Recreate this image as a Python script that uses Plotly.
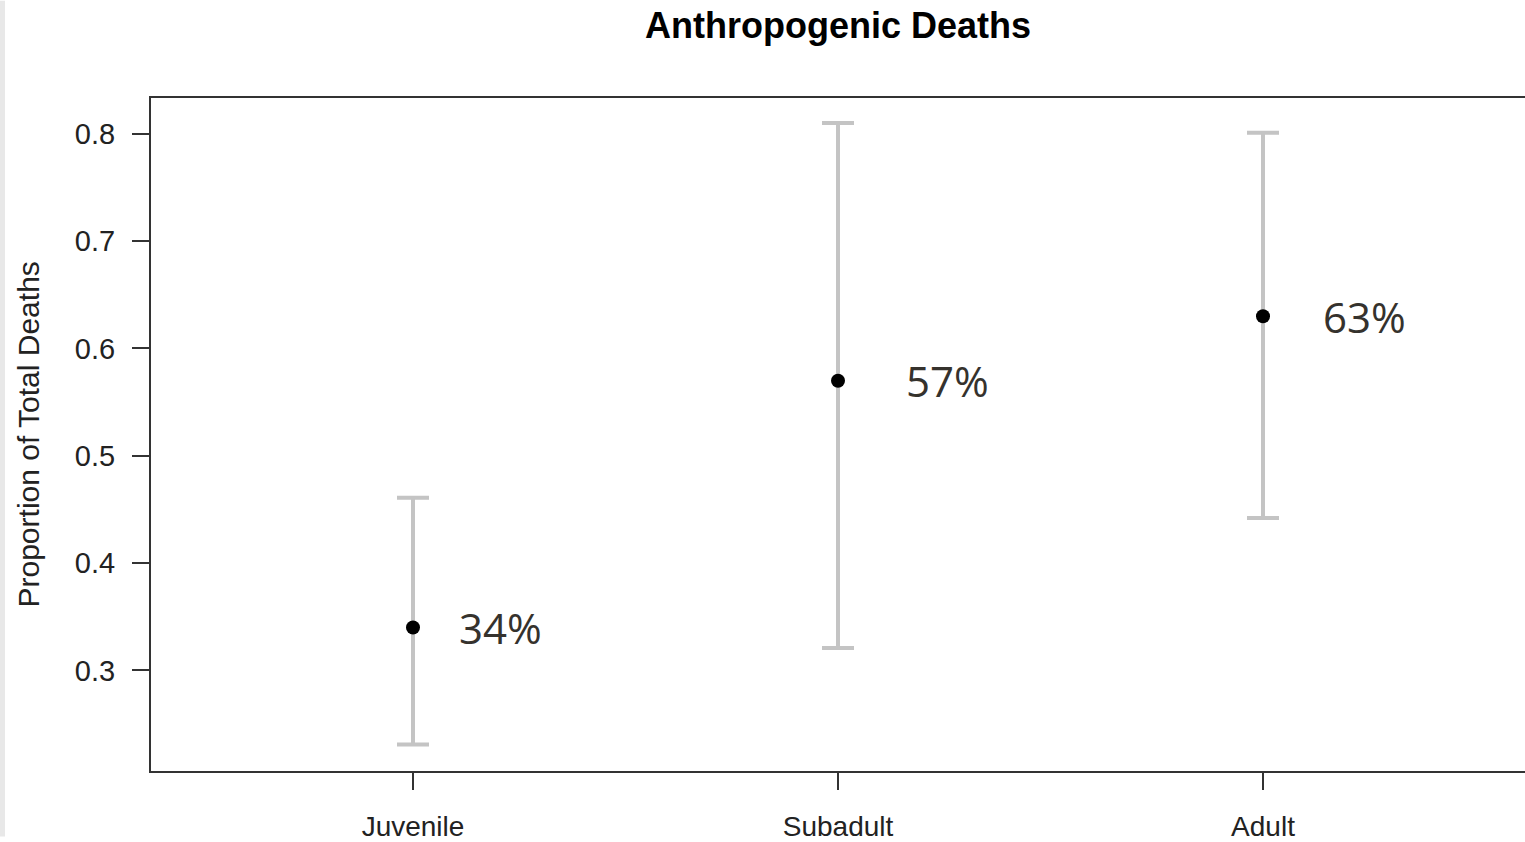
import plotly.graph_objects as go

categories = ["Juvenile", "Subadult", "Adult"]
proportion = [0.34, 0.57, 0.63]
lower = [0.231, 0.321, 0.442]
upper = [0.461, 0.810, 0.801]
labels = ["34%", "57%", "63%"]
label_shift = [44, 66, 58]
y_ticks = [0.3, 0.4, 0.5, 0.6, 0.7, 0.8]

xpos = [1, 2, 3]
W, H = 1525, 842
L, R, T, B = 151, 0, 98, 66
plot_w = W - L - R

fig = go.Figure()
fig.add_trace(go.Scatter(
    x=xpos, y=proportion, mode="markers",
    marker=dict(color="black", size=14),
    error_y=dict(type="data", symmetric=False,
                 array=[u - p for u, p in zip(upper, proportion)],
                 arrayminus=[p - l for p, l in zip(proportion, lower)],
                 color="#c4c4c4", thickness=4, width=16),
    showlegend=False,
))

for x, p, t, s in zip(xpos, proportion, labels, label_shift):
    fig.add_annotation(x=x, y=p, text=t, showarrow=False, xanchor="left",
                       yanchor="middle", xshift=s,
                       font=dict(family="Open Sans", size=42, color="#35322d"))

fig.add_annotation(xref="paper", yref="paper", x=0, y=0.5, xshift=-123,
                   text="Proportion of Total Deaths", textangle=-90,
                   showarrow=False, xanchor="center", yanchor="middle",
                   font=dict(family="Liberation Sans", size=30, color="#222222"))

fig.add_shape(type="rect", xref="paper", yref="paper",
              x0=-L / plot_w, x1=-(L - 5) / plot_w, y0=-B / (H - T - B), y1=1 + T / (H - T - B),
              fillcolor="#e8e8e8", line=dict(width=0), layer="below")

fig.update_layout(
    width=W, height=H,
    margin=dict(l=L, r=R, t=T, b=B),
    paper_bgcolor="white", plot_bgcolor="white",
    title=dict(text="<b>Anthropogenic Deaths</b>", x=0.5, xref="paper",
               y=1 - 25 / H, yref="container", yanchor="middle", xanchor="center",
               font=dict(family="Liberation Sans", size=36, color="black")),
    xaxis=dict(range=[1 - 262 / 425, 1 + (plot_w - 262) / 425],
               tickvals=xpos, ticktext=categories,
               showgrid=False, zeroline=False,
               showline=True, linecolor="#333333", linewidth=2, mirror=True,
               ticks="outside", ticklen=17, tickwidth=2, tickcolor="#333333",
               ticklabelstandoff=12,
               tickfont=dict(family="Liberation Sans", size=28, color="#222222")),
    yaxis=dict(range=[0.2063, 0.8334], tickvals=y_ticks, tickformat=".1f",
               showgrid=False, zeroline=False,
               showline=True, linecolor="#333333", linewidth=2, mirror=False,
               ticks="outside", ticklen=17, tickwidth=2, tickcolor="#333333",
               ticklabelstandoff=11,
               tickfont=dict(family="Liberation Sans", size=29, color="#222222")),
)

fig.write_html("out.html", config={"displayModeBar": False},
               post_script="document.body.style.margin='0';document.body.style.overflow='hidden';")
